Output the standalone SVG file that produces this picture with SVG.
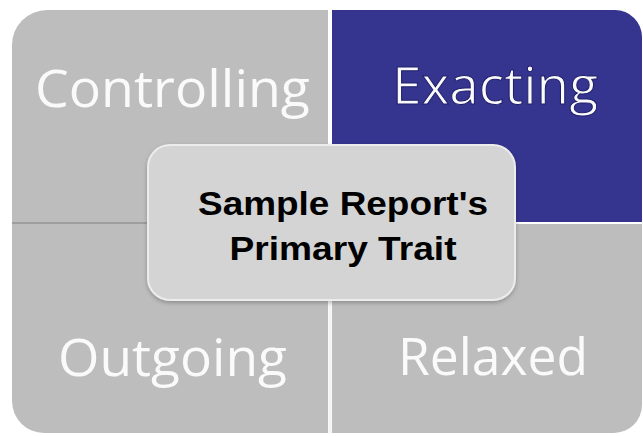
<svg xmlns="http://www.w3.org/2000/svg" width="643" height="436" viewBox="0 0 643 436">
<style>
.q{fill:#bdbdbd}
.lbl{font-family:"Open Sans","Noto Sans",sans-serif;font-size:51px;fill:#fafafa}
.ctr{font-family:"Liberation Sans",Arial,sans-serif;font-size:33px;font-weight:bold;fill:#000000;text-anchor:middle}
</style>
<defs>
<filter id="sh" x="-10%" y="-10%" width="120%" height="130%">
<feDropShadow dx="0" dy="2" stdDeviation="2" flood-color="#000000" flood-opacity="0.25"/>
</filter>
</defs>
<rect width="643" height="436" fill="#ffffff"/>
<g id="controlling">
<path class="q" d="M12,45 A35,35 0 0 1 47,10 H328 V223 H12 Z"/>
<text class="lbl" x="35" y="107" textLength="275" lengthAdjust="spacingAndGlyphs">Controlling</text>
</g>
<g id="exacting">
<path d="M332,10 H615 A27,27 0 0 1 642,37 V222 H332 Z" fill="#35358f"/>
<text class="lbl" x="392" y="104" textLength="206" lengthAdjust="spacingAndGlyphs" stroke="#1d1d6a" stroke-width="1">Exacting</text>
</g>
<g id="outgoing">
<path class="q" d="M12,224 H328 V433 H44 A32,32 0 0 1 12,401 Z"/>
<text class="lbl" x="58" y="376" textLength="229" lengthAdjust="spacingAndGlyphs">Outgoing</text>
</g>
<g id="relaxed">
<path class="q" d="M332,224 H642 V405 A28,28 0 0 1 614,433 H332 Z"/>
<text class="lbl" x="398" y="375" textLength="190" lengthAdjust="spacingAndGlyphs">Relaxed</text>
</g>
<g id="connectors">
<line x1="12" y1="223" x2="150" y2="223" stroke="#9e9e9e" stroke-width="2"/>
<line x1="330" y1="300" x2="330" y2="433" stroke="#f4f4f4" stroke-width="3"/>
</g>
<g id="primary">
<rect x="148" y="145" width="367" height="155" rx="22" fill="#d4d4d4" stroke="#ececec" stroke-width="2" filter="url(#sh)"/>
<text class="ctr" x="343" y="215" textLength="290" lengthAdjust="spacingAndGlyphs">Sample Report's</text>
<text class="ctr" x="343" y="260" textLength="227" lengthAdjust="spacingAndGlyphs">Primary Trait</text>
</g>
</svg>
